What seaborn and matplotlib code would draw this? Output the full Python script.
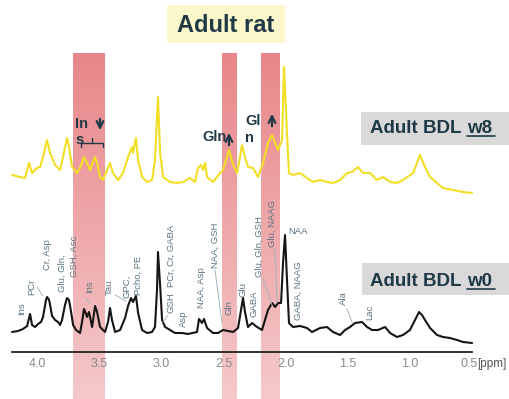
import numpy as np
import pandas as pd
import seaborn as sns
import matplotlib.pyplot as plt
from matplotlib.colors import LinearSegmentedColormap
from matplotlib.patches import Rectangle
from matplotlib.transforms import ScaledTranslation

# chemical shift (ppm) and intensity (arbitrary units)
ppm_w0 = [4.201, 4.153, 4.113, 4.080, 4.056, 4.040, 4.016, 3.992, 3.968, 3.952,
          3.928, 3.920, 3.903, 3.895, 3.879, 3.855, 3.831, 3.815, 3.799, 3.775,
          3.759, 3.743, 3.726, 3.710, 3.686, 3.654, 3.638, 3.622, 3.606, 3.598,
          3.582, 3.557, 3.533, 3.517, 3.493, 3.453, 3.429, 3.413, 3.397, 3.372,
          3.332, 3.292, 3.268, 3.244, 3.228, 3.204, 3.187, 3.155, 3.115, 3.075,
          3.051, 3.035, 3.027, 3.010, 2.994, 2.970, 2.930, 2.890, 2.833, 2.785,
          2.713, 2.697, 2.673, 2.657, 2.632, 2.584, 2.544, 2.504, 2.463, 2.423,
          2.383, 2.359, 2.343, 2.327, 2.303, 2.270, 2.230, 2.190, 2.166, 2.142,
          2.109, 2.085, 2.061, 2.037, 2.021, 2.005, 1.989, 1.973, 1.941, 1.884,
          1.828, 1.788, 1.723, 1.667, 1.619, 1.562, 1.522, 1.482, 1.442, 1.385,
          1.345, 1.305, 1.257, 1.200, 1.160, 1.104, 1.056, 1.000, 0.959, 0.927,
          0.903, 0.879, 0.838, 0.782, 0.734, 0.678, 0.621, 0.573, 0.500]
int_w0 = [11, 12, 14, 17, 29, 18, 16, 19, 21, 26,
          43, 46, 43, 38, 27, 23, 21, 18, 23, 38,
          45, 43, 31, 18, 13, 10, 21, 34, 29, 26,
          31, 16, 37, 31, 16, 11, 21, 35, 23, 11,
          13, 25, 37, 45, 41, 47, 30, 13, 10, 11,
          16, 53, 91, 58, 23, 16, 13, 10, 10, 9,
          11, 24, 20, 24, 15, 10, 10, 13, 12, 11,
          15, 33, 45, 31, 16, 20, 16, 13, 23, 33,
          40, 36, 40, 40, 80, 108, 63, 20, 16, 17,
          15, 11, 15, 16, 11, 8, 13, 16, 20, 21,
          16, 13, 13, 16, 10, 6, 8, 13, 23, 31,
          28, 23, 15, 8, 6, 5, 3, 1, 0]

ppm_w8 = [4.201, 4.137, 4.097, 4.064, 4.040, 4.000, 3.976, 3.952, 3.920, 3.895,
          3.855, 3.815, 3.791, 3.759, 3.743, 3.718, 3.678, 3.654, 3.622, 3.598,
          3.574, 3.533, 3.517, 3.493, 3.469, 3.437, 3.413, 3.389, 3.348, 3.308,
          3.268, 3.236, 3.228, 3.204, 3.187, 3.155, 3.115, 3.075, 3.051, 3.027,
          3.010, 2.986, 2.930, 2.874, 2.825, 2.769, 2.729, 2.705, 2.681, 2.665,
          2.648, 2.632, 2.584, 2.528, 2.504, 2.455, 2.423, 2.391, 2.367, 2.351,
          2.327, 2.303, 2.262, 2.222, 2.182, 2.142, 2.109, 2.085, 2.061, 2.029,
          2.013, 1.989, 1.973, 1.941, 1.884, 1.828, 1.780, 1.723, 1.667, 1.619,
          1.562, 1.506, 1.466, 1.418, 1.377, 1.321, 1.265, 1.216, 1.160, 1.104,
          1.056, 0.975, 0.919, 0.879, 0.838, 0.782, 0.734, 0.654, 0.573, 0.500]
int_w8 = [18, 16, 15, 30, 20, 25, 26, 36, 53, 40,
          28, 23, 36, 55, 46, 26, 20, 25, 36, 30,
          23, 36, 30, 16, 13, 23, 30, 20, 13, 20,
          36, 46, 40, 55, 33, 16, 11, 13, 33, 96,
          40, 16, 11, 10, 11, 15, 11, 25, 28, 23,
          30, 16, 11, 20, 23, 43, 28, 20, 36, 48,
          36, 26, 25, 16, 30, 50, 58, 50, 43, 53,
          126, 60, 20, 18, 20, 15, 11, 13, 11, 10,
          13, 20, 21, 26, 20, 20, 13, 16, 11, 10,
          13, 20, 38, 26, 16, 10, 5, 3, 1, 0]

bands = [(3.71, 3.46), (2.51, 2.39), (2.20, 2.05)]
major_ticks = [4.0, 3.5, 3.0, 2.5, 2.0, 1.5, 1.0, 0.5]
minor_ticks = [3.75, 3.25, 2.75, 2.25, 1.75, 1.25, 0.75]
tick_labels = ['4.0', '3.5', '3.0', '2.5', '2.0', '1.5', '1.0', '0.5']

# metabolite labels: text, x px, bottom y px
peak_labels = [('Ins', 22, 315), ('PCr', 32, 295), ('Cr, Asp', 48, 270),
               ('Glu, Gln,', 62, 292), ('GSH, Asc', 74, 277), ('Ins', 90, 293),
               ('Tau', 109, 295), ('GPC,', 127, 298), ('Pcho, PE', 138, 295),
               ('PCr, Cr, GABA', 171, 287), ('GSH', 171, 313), ('Asp', 183, 327),
               ('NAA, Asp', 202, 308), ('NAA, GSH', 215, 268), ('Gln', 229, 315),
               ('Glu', 243, 297), ('GABA', 254, 317), ('Glu, Gln, GSH', 259, 277),
               ('Glu, NAAG', 272, 247), ('GABA, NAAG', 298, 320),
               ('Ala', 343, 305), ('Lac', 370, 320)]
leaders = [((37, 287), (43, 296)), ((115, 295), (126, 301)),
           ((168, 315), (163, 322)), ((215, 270), (222, 323)),
           ((263, 279), (272, 305)), ((275, 249), (277, 303)),
           ((347, 309), (352, 322)), ((86, 298), (90, 303))]

W, H = 510, 399
dark = '#1f3a46'

sns.set_style('white')
plt.rcParams['font.family'] = ['Liberation Sans', 'DejaVu Sans']

fig = plt.figure(figsize=(W / 100, H / 100), dpi=100)
ax = fig.add_axes([0, 0, 1, 1])
ax.patch.set_visible(False)
ax.set_axisbelow(False)


def P(x, y):
    return (x / W, 1 - y / H)


# shaded bands with vertical gradient
cmap = LinearSegmentedColormap.from_list('band', ['#f5c9ca', '#e8878a'])
grad = np.linspace(0, 1, 256).reshape(-1, 1)
for a, b in bands:
    ax.imshow(grad, cmap=cmap, origin='lower', aspect='auto',
              extent=[a, b, 0, H - 53], zorder=1)

df0 = pd.DataFrame({'ppm': ppm_w0, 'y': np.array(int_w0) + 56})
df8 = pd.DataFrame({'ppm': ppm_w8, 'y': np.array(int_w8) + 206})
sns.lineplot(data=df8, x='ppm', y='y', color='#f3de26', lw=1.5,
             estimator=None, sort=False, ax=ax, zorder=3)
sns.lineplot(data=df0, x='ppm', y='y', color='#151515', lw=1.5,
             estimator=None, sort=False, ax=ax, zorder=3)
ax.set_xlim(4.298, 0.195)
ax.set_ylim(0, H)
ax.set_xlabel('')
ax.set_ylabel('')

# axis
for s in ['top', 'left', 'right']:
    ax.spines[s].set_visible(False)
ax.spines['bottom'].set_position(('data', H - 352))
ax.spines['bottom'].set_bounds(0.5, 4.2)
ax.spines['bottom'].set_color('#222222')
ax.spines['bottom'].set_linewidth(1.3)
ax.spines['bottom'].set_zorder(4)
ax.set_yticks([])
ax.set_xticks(major_ticks)
ax.set_xticklabels(tick_labels)
ax.set_xticks(minor_ticks, minor=True)
ax.tick_params(axis='x', which='both', direction='in', length=4, width=1,
               color='#222222', labelcolor='#8a8a8a', labelsize=9, pad=4.5)
last = ax.get_xticklabels()[-1]
last.set_transform(last.get_transform()
                   + ScaledTranslation(-3 / 100, 0, fig.dpi_scale_trans))
ax.text(*P(477, 364), '[ppm]', transform=ax.transAxes, fontsize=8.5,
        color='#555555', ha='left', va='center')

# boxes and titles
for (x0, y0, x1, y1, c) in [(167, 5, 285, 43, '#fdf8cc'),
                            (361, 112, 512, 145, '#d9d9d9'),
                            (362, 263, 512, 295, '#d9d9d9')]:
    ax.add_patch(Rectangle(P(x0, y1), (x1 - x0) / W, (y1 - y0) / H,
                           transform=ax.transAxes, facecolor=c,
                           edgecolor='none', zorder=2))
ax.text(*P(226, 25), 'Adult rat', transform=ax.transAxes, fontsize=17,
        fontweight='bold', color=dark, ha='center', va='center', zorder=5)
for y_base, week in [(133, 'w8'), (286, 'w0')]:
    ax.text(*P(370, y_base), 'Adult BDL', transform=ax.transAxes,
            fontsize=13.5, fontweight='bold', color=dark, ha='left',
            va='baseline', zorder=5)
    ax.text(*P(467, y_base), week, transform=ax.transAxes,
            fontsize=13.5, fontweight='bold', color=dark, ha='left',
            va='baseline', zorder=5)
    ax.plot([P(467, 0)[0], P(495, 0)[0]],
            [P(0, y_base + 2.5)[1]] * 2, transform=ax.transAxes,
            color=dark, lw=1.2, zorder=5)

# w8 annotations
for txt, x, y in [('In', 75, 128), ('s', 75, 144), ('Gln', 202, 141),
                  ('Gl', 245, 125), ('n', 245, 142)]:
    ax.text(*P(x, y), txt, transform=ax.transAxes, fontsize=10.5,
            fontweight='bold', color=dark, ha='left', va='baseline', zorder=5)
for (xa, ya, xb, yb) in [(100, 116, 100, 133), (229, 148, 229, 130),
                         (272, 129, 272, 111)]:
    ax.annotate('', xy=P(xb, yb), xytext=P(xa, ya), xycoords='axes fraction',
                arrowprops=dict(arrowstyle='->', lw=1.6, color=dark,
                                mutation_scale=12), zorder=5)
for seg in [((81, 143), (103, 143)), ((81, 143), (81, 147)),
            ((103, 143), (103, 147)), ((92, 143), (92, 138))]:
    (xa, ya), (xb, yb) = seg
    ax.plot([P(xa, ya)[0], P(xb, yb)[0]], [P(xa, ya)[1], P(xb, yb)[1]],
            transform=ax.transAxes, color=dark, lw=1, zorder=5)

# metabolite labels
for txt, x, y in peak_labels:
    ax.text(*P(x, y), txt, transform=ax.transAxes, rotation=90, fontsize=6.8,
            color='#5b7482', ha='center', va='bottom', zorder=5)
ax.text(*P(288, 231), 'NAA', transform=ax.transAxes, fontsize=6.8,
        color='#5b7482', ha='left', va='center', zorder=5)
for (xa, ya), (xb, yb) in leaders:
    ax.plot([P(xa, ya)[0], P(xb, yb)[0]], [P(xa, ya)[1], P(xb, yb)[1]],
            transform=ax.transAxes, color='#a3b4bc', lw=0.7, zorder=4)

plt.savefig('out.png', dpi=100)
